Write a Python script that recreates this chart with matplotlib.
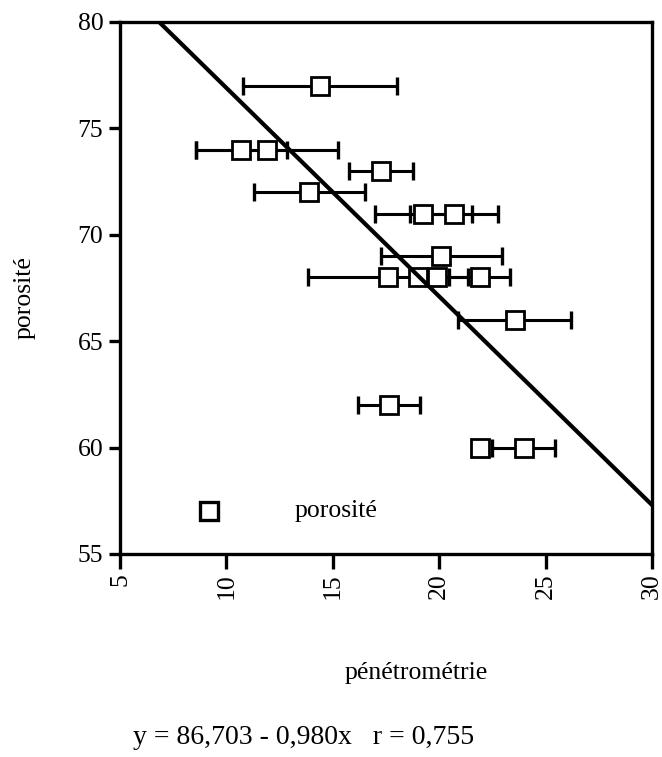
import numpy as np
import matplotlib
matplotlib.use("Agg")
import matplotlib.pyplot as plt

# Données
penetro = [14.4, 10.7, 11.9, 17.25, 13.9, 19.25, 20.7, 20.1,
           17.6, 19.0, 19.9, 21.9, 23.55, 17.65, 21.9, 23.97]
porosite = [77, 74, 74, 73, 72, 71, 71, 69,
            68, 68, 68, 68, 66, 62, 60, 60]
erreur_x = [3.6, 2.15, 3.35, 1.5, 2.6, 2.27, 2.05, 2.85,
            3.75, 0.2, 0.2, 1.43, 2.65, 1.45, 0.2, 1.47]

# droite de régression y = a + b*x
intercept = 86.703
pente = -0.980
r_coef = 0.755

x_ticks = [5, 10, 15, 20, 25, 30]
y_ticks = [55, 60, 65, 70, 75, 80]

plt.rcParams['font.family'] = ['Liberation Serif', 'DejaVu Serif']

W, H = 662, 757
fig = plt.figure(figsize=(W / 100, H / 100), dpi=100)
fig.patch.set_facecolor('white')
ax = fig.add_axes([120 / W, 1 - 554 / H, 532 / W, 532 / H])

# barres d'erreur horizontales
ax.errorbar(penetro, porosite, xerr=erreur_x, fmt='none', ecolor='black',
            elinewidth=2.2, capsize=6.5, capthick=2.4, zorder=2)
# points
ax.plot(penetro, porosite, 's', markersize=12.5, markerfacecolor='white',
        markeredgecolor='black', markeredgewidth=2.0, zorder=3)

# droite de régression
xx = np.array([x_ticks[0], x_ticks[-1]])
ax.plot(xx, intercept + pente * xx, color='black', linewidth=3.0, zorder=4)

ax.set_xlim(5, 30)
ax.set_ylim(55, 80)
ax.set_xticks(x_ticks)
ax.set_yticks(y_ticks)
ax.set_xticklabels([str(t) for t in x_ticks], rotation=90, fontsize=18.5)
ax.set_yticklabels([str(t) for t in y_ticks], fontsize=18.5)
ax.tick_params(axis='x', direction='out', length=11, width=2.4, pad=3)
ax.tick_params(axis='y', direction='out', length=8, width=2.4, pad=4)
for sp in ax.spines.values():
    sp.set_linewidth(2.4)
    sp.set_clip_on(False)

# légende à la manière de l'original
ax.plot([9.2], [57.0], 's', markersize=12.5, markerfacecolor='white',
        markeredgecolor='black', markeredgewidth=2.4, zorder=3, clip_on=False)
ax.text(13.2, 57.0, 'porosité', fontsize=18.5, va='center', ha='left')

fig.text(25 / W, 1 - 298 / H, 'porosité', rotation=90, fontsize=18.5,
         ha='center', va='center')
fig.text(416 / W, 1 - 673 / H, 'pénétrométrie', fontsize=18.5,
         ha='center', va='center')
fig.text(304 / W, 1 - 737 / H,
         'y = 86,703 - 0,980x   r = 0,755', fontsize=20,
         ha='center', va='center')

fig.savefig('out.png', dpi=100)
